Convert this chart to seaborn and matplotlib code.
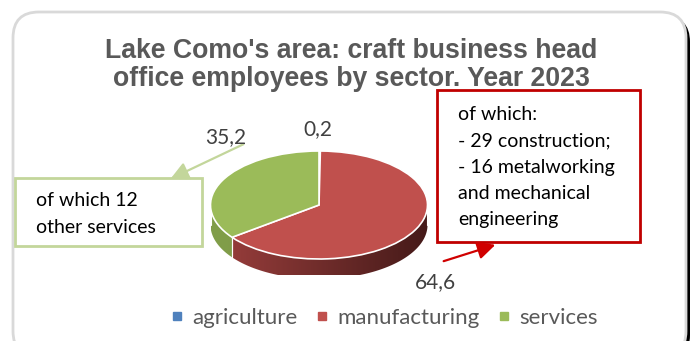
import numpy as np
import matplotlib
matplotlib.use("Agg")
import matplotlib.pyplot as plt
import matplotlib.colors as mcolors
import seaborn as sns
from matplotlib.patches import FancyBboxPatch, Rectangle, Polygon
from matplotlib.lines import Line2D

# --- data -------------------------------------------------------------
sectors = ["agriculture", "manufacturing", "services"]
shares = [0.2, 64.6, 35.2]
share_labels = ["0,2", "64,6", "35,2"]
colors = ["#4f81bd", "#c0504d", "#9bbb59"]
title = "Lake Como's area: craft business head\noffice employees by sector. Year 2023"
services_note = "of which 12\nother services"
manufacturing_note = ("of which:\n- 29 construction;\n- 16 metalworking\n"
                      "and mechanical\nengineering")

# --- styling ----------------------------------------------------------
W, H = 697, 341
sns.set_theme(style="white")
plt.rcParams["font.family"] = ["Lato", "DejaVu Sans"]

fig = plt.figure(figsize=(W / 100, H / 100), dpi=100)
fig.patch.set_facecolor("white")


def fx(x):
    return x / W


def fy(y):
    return 1 - y / H


# background axes in pixel units (origin top-left)
bg = fig.add_axes([0, 0, 1, 1])
bg.set_xlim(0, W)
bg.set_ylim(H, 0)
bg.axis("off")
bg.add_patch(FancyBboxPatch((17, 16), 673, 345, boxstyle="round,pad=0,rounding_size=26",
                            fc="black", ec="none", zorder=0))
bg.add_patch(FancyBboxPatch((13, 12), 673, 345, boxstyle="round,pad=0,rounding_size=26",
                            fc="white", ec="#d9d9d9", lw=2, zorder=1))

# --- pie (tilted) -----------------------------------------------------
cx, cy = 319, 205
rx, ry = 108.5, 54
lim = 1.3
pax = fig.add_axes([fx(cx - lim * rx), fy(cy + lim * ry), 2 * lim * rx / W, 2 * lim * ry / H])
wedges, _ = pax.pie(shares, colors=colors, startangle=90, counterclock=False,
                    wedgeprops=dict(edgecolor="white", linewidth=1.2))
for w in wedges:
    w.set_zorder(5)
pax.set_aspect("auto")
pax.axis("off")

depth = 20 / ry
side_shades = {
    "agriculture": ("#3e6797", "#2c4a6d"),
    "manufacturing": ("#9c3f3d", "#451a19"),
    "services": ("#819e4a", "#76913f"),
}
for w, name in zip(wedges, sectors):
    th = np.linspace(w.theta1, w.theta2, 400)
    th = th[np.sin(np.radians(th)) <= 0]
    if len(th) < 2:
        continue
    t = np.radians(th)
    xs, ys = np.cos(t), np.sin(t)
    outline = np.vstack([np.column_stack([xs, ys]),
                         np.column_stack([xs[::-1], ys[::-1] - depth])])
    side = Polygon(outline, closed=True, fc="none", ec="none")
    pax.add_patch(side)
    cmap = mcolors.LinearSegmentedColormap.from_list(name, side_shades[name])
    grad = np.linspace(0, 1, 256)[None, :]
    img = pax.imshow(grad, cmap=cmap, extent=(-1, 1, -1 - depth, 0), aspect="auto",
                     interpolation="bilinear", zorder=3)
    img.set_clip_path(side)
    for a in (th[0], th[-1]):
        if 180 < a % 360 < 360:
            r = np.radians(a)
            pax.plot([np.cos(r)] * 2, [np.sin(r), np.sin(r) - depth],
                     color="white", lw=0.8, zorder=4)
pax.set_xlim(-lim, lim)
pax.set_ylim(-lim, lim)

# value labels
label_pos = {"0,2": (318, 129), "35,2": (226, 137), "64,6": (435, 282)}
for lab in share_labels:
    x, y = label_pos[lab]
    fig.text(fx(x), fy(y), lab, ha="center", va="center", fontsize=15, color="#404040")

# --- title ------------------------------------------------------------
fig.text(fx(351), fy(65), title, ha="center", va="center", fontsize=19.2,
         fontweight="bold", family=["Liberation Sans", "DejaVu Sans"],
         color="#595959", linespacing=1.13)

# --- callouts ---------------------------------------------------------
bg.add_patch(Rectangle((15, 178), 187, 68, fc="white", ec="#c3d69b", lw=2, zorder=6))
bg.text(36, 214, services_note, ha="left", va="center", fontsize=14,
        color="black", linespacing=1.65, zorder=7)
bg.annotate("", xy=(168, 180), xytext=(246, 143),
            arrowprops=dict(arrowstyle="-|>,head_length=0.9,head_width=0.45",
                            color="#c3d69b", lw=1.6), zorder=7)

bg.add_patch(Rectangle((437, 90), 203, 152, fc="white", ec="#c00000", lw=2, zorder=6))
bg.text(458, 167, manufacturing_note, ha="left", va="center", fontsize=14,
        color="black", linespacing=1.65, zorder=7)
bg.annotate("", xy=(498, 244), xytext=(441, 262),
            arrowprops=dict(arrowstyle="-|>,head_length=0.9,head_width=0.45",
                            color="#d00000", lw=1.6), zorder=7)

# --- legend -----------------------------------------------------------
handles = [Line2D([], [], marker="s", ls="none", markersize=5.5, color=c) for c in colors]
fig.legend(handles, sectors, loc="center", bbox_to_anchor=(fx(383), fy(318)), ncol=3,
           frameon=False, fontsize=16, labelcolor="#595959", handletextpad=0.3,
           columnspacing=0.68, handlelength=0.8)

fig.savefig("out.png", dpi=100)
